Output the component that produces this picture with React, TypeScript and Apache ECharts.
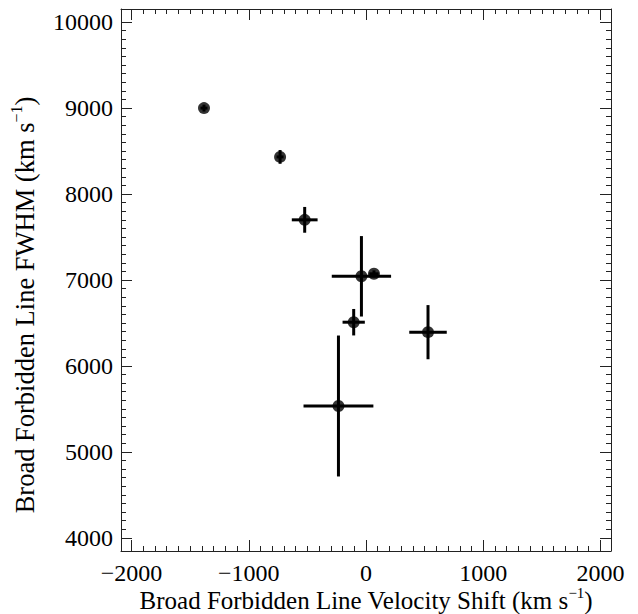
import React, { useEffect, useRef } from "react";
import * as echarts from "echarts";

// Data: velocity shift (km/s), FWHM (km/s), x error, y error
const velocityShift = [-1382, -733, -523, -39, 68, -105, 529, -235];
const fwhm = [9000, 8432, 7700, 7043, 7072, 6509, 6393, 5534];
const velocityErr = [30, 30, 110, 253, 40, 95, 160, 298];
const fwhmErr = [40, 80, 150, 468, 40, 154, 315, 820];

const xMajorTicks = [-2000, -1000, 0, 1000, 2000];
const yMajorTicks = [4000, 5000, 6000, 7000, 8000, 9000, 10000];
const xRange = [-2090, 2090];
const yRange = [3847, 10153];

const xMinorTicks: number[] = [];
for (let v = -2000; v <= 2000; v += 100) xMinorTicks.push(v);
const yMinorTicks: number[] = [];
for (let v = 4000; v <= 10000; v += 100) yMinorTicks.push(v);

const FONT = "'Liberation Serif', 'Times New Roman', serif";
const AXIS_COLOR = "#222";

const xTitle = "{a|Broad Forbidden Line Velocity Shift (km s}{s|−1}{a|)}";
const yTitle = "{a|Broad Forbidden Line FWHM (km s}{s|−1}{a|)}";

export default function App() {
  const ref = useRef<HTMLDivElement>(null);
  useEffect(() => {
    if (!ref.current) return;
    const chart = echarts.init(ref.current, null, { renderer: "svg" });

    const fmt = (v: number) => String(v).replace("-", "−");

    const mkX = (position: "bottom" | "top", major: boolean) => ({
      type: "value",
      position,
      min: xRange[0],
      max: xRange[1],
      axisLine: { show: major, onZero: false, lineStyle: { color: AXIS_COLOR, width: 1 } },
      axisTick: {
        show: true,
        inside: true,
        length: major ? 11 : 5,
        customValues: major ? xMajorTicks : xMinorTicks,
        lineStyle: { color: AXIS_COLOR, width: 1 },
      },
      axisLabel: {
        show: major && position === "bottom",
        customValues: xMajorTicks,
        formatter: fmt,
        fontFamily: FONT,
        fontSize: 24,
        color: "#000",
        margin: 10,
      },
      splitLine: { show: false },
    });

    const mkY = (position: "left" | "right", major: boolean) => ({
      type: "value",
      position,
      min: yRange[0],
      max: yRange[1],
      axisLine: { show: major, onZero: false, lineStyle: { color: AXIS_COLOR, width: 1 } },
      axisTick: {
        show: true,
        inside: true,
        length: major ? 11 : 5,
        customValues: major ? yMajorTicks : yMinorTicks,
        lineStyle: { color: AXIS_COLOR, width: 1 },
      },
      axisLabel: {
        show: major && position === "left",
        customValues: yMajorTicks,
        formatter: fmt,
        fontFamily: FONT,
        fontSize: 24,
        color: "#000",
        margin: 8,
      },
      splitLine: { show: false },
    });

    const errData = velocityShift.map((x, i) => [x, fwhm[i], velocityErr[i], fwhmErr[i]]);
    const ptData = velocityShift.map((x, i) => [x, fwhm[i]]);

    const richX = {
      a: { fontFamily: FONT, fontSize: 25, lineHeight: 28, fill: "#000", verticalAlign: "bottom" },
      s: { fontFamily: FONT, fontSize: 15, lineHeight: 17, fill: "#000", verticalAlign: "top" },
    };
    const richY = {
      a: { fontFamily: FONT, fontSize: 26.5, lineHeight: 30, fill: "#000", verticalAlign: "bottom" },
      s: { fontFamily: FONT, fontSize: 16, lineHeight: 18, fill: "#000", verticalAlign: "top" },
    };

    chart.setOption({
      animation: false,
      backgroundColor: "#fff",
      grid: { left: 121, top: 9, width: 490, height: 542, containLabel: false },
      xAxis: [mkX("bottom", true), mkX("bottom", false), mkX("top", true), mkX("top", false)],
      yAxis: [mkY("left", true), mkY("left", false), mkY("right", true), mkY("right", false)],
      series: [
        {
          type: "custom",
          xAxisIndex: 0,
          yAxisIndex: 0,
          data: errData,
          encode: { x: 0, y: 1 },
          renderItem: (params: any, api: any) => {
            const x = api.value(0);
            const y = api.value(1);
            const ex = api.value(2);
            const ey = api.value(3);
            const l = api.coord([x - ex, y]);
            const r = api.coord([x + ex, y]);
            const t = api.coord([x, y + ey]);
            const b = api.coord([x, y - ey]);
            const style = { stroke: "#000", lineWidth: 3 };
            return {
              type: "group",
              children: [
                { type: "line", shape: { x1: l[0], y1: l[1], x2: r[0], y2: r[1] }, style },
                { type: "line", shape: { x1: t[0], y1: t[1], x2: b[0], y2: b[1] }, style },
              ],
            };
          },
          silent: true,
        },
        {
          type: "scatter",
          xAxisIndex: 0,
          yAxisIndex: 0,
          data: ptData,
          symbol: "circle",
          symbolSize: 12,
          itemStyle: { color: "#000" },
          silent: true,
          z: 5,
        },
      ],
      graphic: [
        {
          type: "text",
          x: 366,
          y: 599,
          style: { text: xTitle, align: "center", verticalAlign: "middle", rich: richX },
        },
        {
          type: "text",
          x: 23,
          y: 305,
          rotation: Math.PI / 2,
          style: { text: yTitle, align: "center", verticalAlign: "middle", rich: richY },
        },
      ],
    });
    return () => chart.dispose();
  }, []);

  return (
    <div
      ref={ref}
      style={{ position: "absolute", left: 0, top: 0, width: 638, height: 614, background: "#fff" }}
    />
  );
}
